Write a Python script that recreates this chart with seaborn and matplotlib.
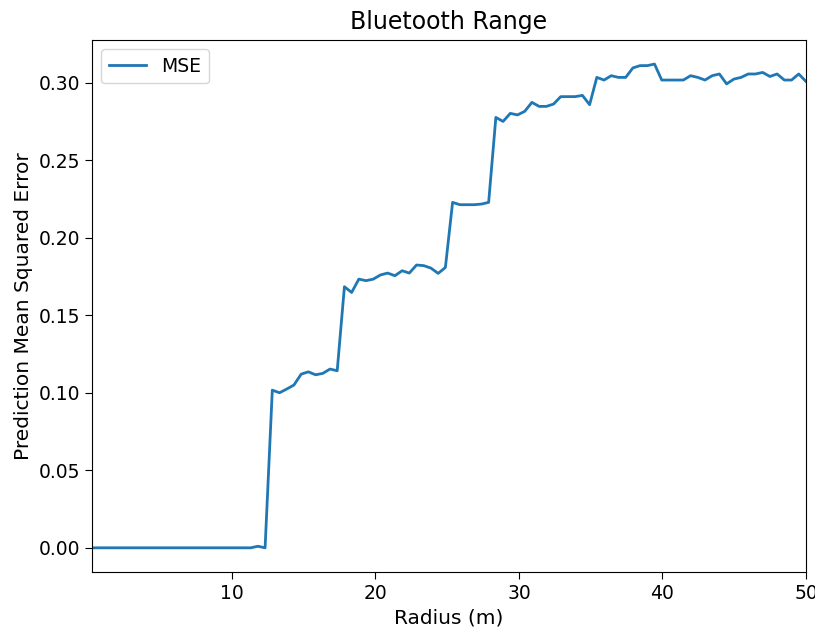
import numpy as np
import seaborn as sns
import matplotlib
matplotlib.use("Agg")
import matplotlib.pyplot as plt

# raio (m) - 100 pontos
radius = np.linspace(0.25, 50, 100)

# erro quadratico medio
mse = [0.0] * 23 + [
    0.001, 0.0,
    0.1017, 0.100, 0.1024, 0.105, 0.112, 0.1135, 0.1116, 0.1125, 0.1153, 0.1142,
    0.1684, 0.1647, 0.1733, 0.1723, 0.1733, 0.176, 0.1772, 0.1755, 0.1787, 0.1772,
    0.1824, 0.182, 0.1804, 0.177, 0.1808,
    0.2228, 0.2213, 0.2213, 0.2213, 0.2217, 0.2228,
    0.2776, 0.275, 0.2802, 0.2792, 0.2815, 0.2873, 0.2847, 0.2847, 0.2862, 0.291,
    0.291, 0.291, 0.2918, 0.2858,
    0.3034, 0.3017, 0.3045, 0.3034, 0.3034, 0.3095, 0.311, 0.311, 0.312,
    0.3017, 0.3017, 0.3017, 0.3017, 0.3045, 0.3034, 0.3017, 0.3045, 0.3056,
    0.2992, 0.3023, 0.3034, 0.3056, 0.3056, 0.3066, 0.304, 0.3056, 0.3017,
    0.3017, 0.3056, 0.3008,
]

fig = plt.figure(figsize=(8.15, 6.35), dpi=100)
ax = fig.add_axes([0.1129, 0.0992, 0.876, 0.838])
sns.lineplot(x=radius, y=mse, label="MSE", ax=ax, color="#1f77b4", linewidth=2)
ax.set_xlim(radius[0], 50)
ax.set_title("Bluetooth Range", fontsize=17, pad=8)
ax.set_xlabel("Radius (m)", fontsize=14.5)
ax.set_ylabel("Prediction Mean Squared Error", fontsize=14.5)
ax.tick_params(labelsize=13.5, length=5)
ax.legend(loc="upper left", fontsize=13.5)
plt.savefig("out.png", dpi=100)
